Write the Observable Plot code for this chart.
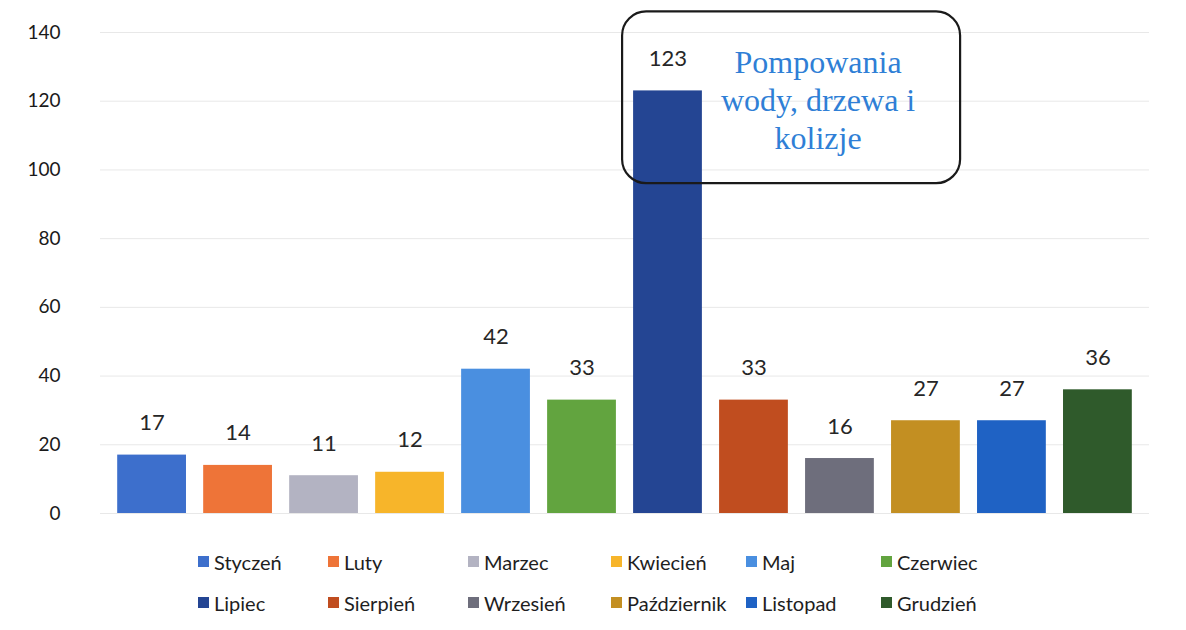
<!DOCTYPE html>
<html>
<head>
<meta charset="utf-8">
<script src="https://cdn.jsdelivr.net/npm/d3@7"></script>
<script src="https://cdn.jsdelivr.net/npm/@observablehq/plot@0.6"></script>
<style>
  html, body { margin: 0; padding: 0; background: #fff; }
  body { width: 1186px; height: 630px; overflow: hidden; font-family: Lato, "Open Sans", sans-serif; }
  #legend { display: grid; grid-template-columns: 130px 140px 143px 135px 135px 160px; row-gap: 14px;
            padding-left: 198px; padding-top: 18px; font-size: 20px; color: #1e1e1e; }
  .item { display: flex; align-items: center; white-space: nowrap; height: 27px; }
  .sw { width: 11px; height: 11px; margin-right: 5px; flex: none; }
</style>
</head>
<body>
<div id="chart"></div>
<div id="legend"></div>
<script>
const months = ["Styczeń","Luty","Marzec","Kwiecień","Maj","Czerwiec","Lipiec","Sierpień","Wrzesień","Październik","Listopad","Grudzień"];
const values = [17, 14, 11, 12, 42, 33, 123, 33, 16, 27, 27, 36];
const colors = ["#3d6fcc","#ee7438","#b3b3c2","#f7b52a","#4a8fe0","#62a43f","#244593","#c04d1f","#6e6e7c","#c38f22","#1f62c4","#2f5a2b"];
const yTicks = [0, 20, 40, 60, 80, 100, 120, 140];
const annotationMonth = "Lipiec";
const annotationLines = ["Pompowania", "wody, drzewa i", "kolizje"];

const data = months.map((m, i) => ({month: m, value: values[i]}));

function annotation(index, scales, values, dims) {
  const x0 = scales.x(annotationMonth) - 11;
  const x1 = x0 + 338;
  const yTop = scales.y(146);
  const yBot = scales.y(96);
  const g = d3.create("svg:g");
  g.append("rect")
    .attr("x", x0).attr("y", yTop).attr("width", x1 - x0).attr("height", yBot - yTop)
    .attr("rx", 24).attr("ry", 24)
    .attr("fill", "none").attr("stroke", "#1a1a1a").attr("stroke-width", 2.2);
  const cx = x0 + 196;
  annotationLines.forEach((t, i) => {
    g.append("text")
      .attr("x", cx).attr("y", yTop + 62 + i * 38)
      .attr("text-anchor", "middle")
      .attr("font-family", "'Liberation Serif', 'DejaVu Serif', serif")
      .attr("font-size", 32)
      .attr("fill", "#2f7fd6")
      .text(t);
  });
  return g.node();
}

const chart = Plot.plot({
  width: 1186,
  height: 530,
  marginLeft: 100,
  marginRight: 37,
  marginTop: 32,
  marginBottom: 17,
  style: { fontFamily: "Lato, 'Open Sans', sans-serif", background: "#fff" },
  x: { domain: months, padding: 0.2, round: false, axis: null },
  y: { domain: [0, 140], ticks: yTicks, label: null },
  color: { domain: months, range: colors },
  marks: [
    Plot.gridY(yTicks, { stroke: "#e8e8e8", strokeOpacity: 1, strokeWidth: 1 }),
    Plot.axisY(yTicks, { tickSize: 0, tickPadding: 40, fontSize: 19, fill: "#1a1a1a", label: null }),
    Plot.barY(data, { x: "month", y: "value", fill: "month" }),
    Plot.text(data, { x: "month", y: "value", text: d => String(d.value), dy: -32, fontSize: 22, fill: "#262626" }),
    annotation
  ]
});
document.getElementById("chart").appendChild(chart);

const legend = document.getElementById("legend");
months.forEach((m, i) => {
  const it = document.createElement("div");
  it.className = "item";
  const sw = document.createElement("span");
  sw.className = "sw";
  sw.style.background = colors[i];
  const lb = document.createElement("span");
  lb.textContent = m;
  it.appendChild(sw); it.appendChild(lb);
  legend.appendChild(it);
});
</script>
</body>
</html>
